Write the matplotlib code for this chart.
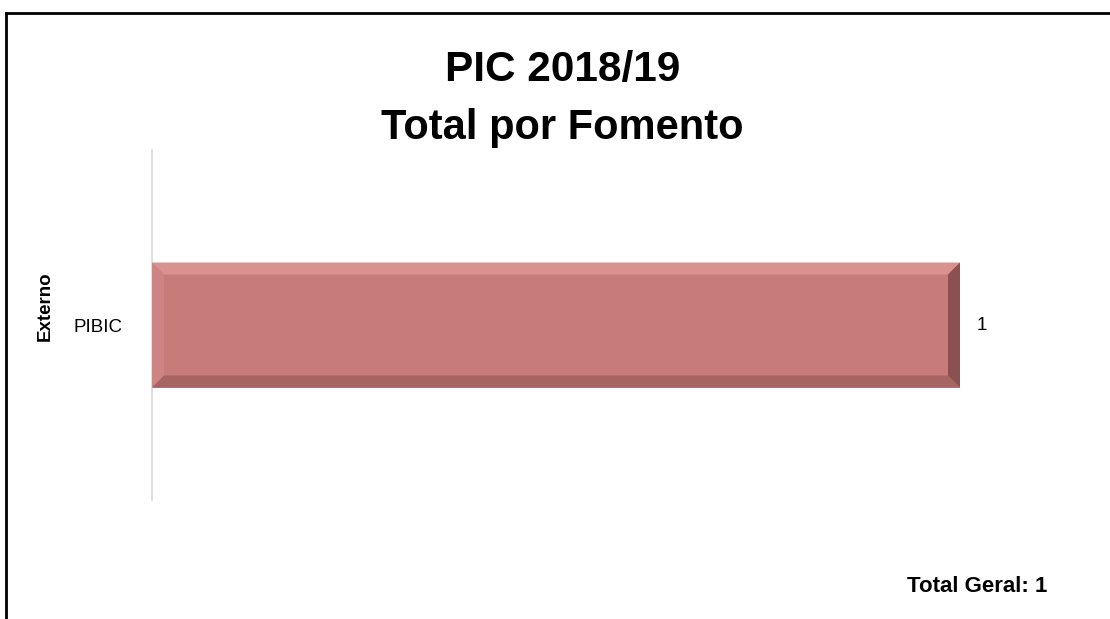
import matplotlib
matplotlib.use("Agg")
import matplotlib.pyplot as plt
from matplotlib.patches import Polygon
from matplotlib.lines import Line2D

categories = ["PIBIC"]
group_label = "Externo"
values = [1]
title_lines = ["PIC 2018/19", "Total por Fomento"]
total_text = "Total Geral: 1"

FONT = "Liberation Sans"
W, H = 1110, 619
fig = plt.figure(figsize=(W / 100, H / 100), dpi=100)

ax = fig.add_axes([152 / W, 1 - 500 / H, 808 / W, 350 / H])
ax.set_xlim(0, max(values))
ax.set_ylim(-0.5, 0.5)
bar_h = 125 / 350
bars = ax.barh(range(len(categories)), values, height=bar_h, color="#C87C7A",
               edgecolor="none", zorder=2)

# bevel decoration
fig.canvas.draw()
inv = ax.transData.inverted()
bev_px = 12
for b in bars:
    x0, y0 = b.get_x(), b.get_y()
    x1, y1 = x0 + b.get_width(), y0 + b.get_height()
    (px0, py0) = ax.transData.transform((x0, y0))
    (px1, py1) = ax.transData.transform((x1, y1))
    def d(px, py):
        return inv.transform((px, py))
    o = [d(px0, py0), d(px1, py0), d(px1, py1), d(px0, py1)]
    i = [d(px0 + bev_px, py0 + bev_px), d(px1 - bev_px, py0 + bev_px),
         d(px1 - bev_px, py1 - bev_px), d(px0 + bev_px, py1 - bev_px)]
    # top
    ax.add_patch(Polygon([o[3], o[2], i[2], i[3]], closed=True, color="#D99290", lw=0, zorder=3))
    # left
    ax.add_patch(Polygon([o[0], o[3], i[3], i[0]], closed=True, color="#CD8482", lw=0, zorder=3))
    # bottom
    ax.add_patch(Polygon([o[0], o[1], i[1], i[0]], closed=True, color="#A66462", lw=0, zorder=3))
    # right
    ax.add_patch(Polygon([o[1], o[2], i[2], i[1]], closed=True, color="#8A5150", lw=0, zorder=3))
    ax.text(x1 + 0.021 * max(values), y0 + b.get_height() / 2, f"{b.get_width():g}",
            ha="left", va="center", fontsize=13.5, family=FONT, color="black")

for s in ["top", "right", "bottom"]:
    ax.spines[s].set_visible(False)
ax.spines["left"].set_color("#D9D9D9")
ax.spines["left"].set_linewidth(1.2)
ax.set_xticks([])
ax.set_yticks(range(len(categories)))
ax.set_yticklabels(categories, fontsize=13.5, family=FONT)
ax.tick_params(axis="y", length=0, pad=21)

fig.text(45 / W, 1 - 306 / H, group_label, rotation=90, ha="center", va="center",
         fontsize=13.5, fontweight="bold", family=FONT)

fig.text(563 / W, 1 - 81 / H, title_lines[0], ha="center", va="baseline",
         fontsize=30.5, fontweight="bold", family=FONT)
fig.text(562 / W, 1 - 139 / H, title_lines[1], ha="center", va="baseline",
         fontsize=30, fontweight="bold", family=FONT)

fig.text(1047 / W, 1 - 592 / H, total_text, ha="right", va="baseline",
         fontsize=16, fontweight="bold", family=FONT)

# outer border (top and left visible)
fig.add_artist(Line2D([6 / W, 1.0], [1 - 13 / H, 1 - 13 / H], color="black", lw=2))
fig.add_artist(Line2D([6 / W, 6 / W], [0, 1 - 13 / H], color="black", lw=2))

fig.savefig("out.png", dpi=100)
